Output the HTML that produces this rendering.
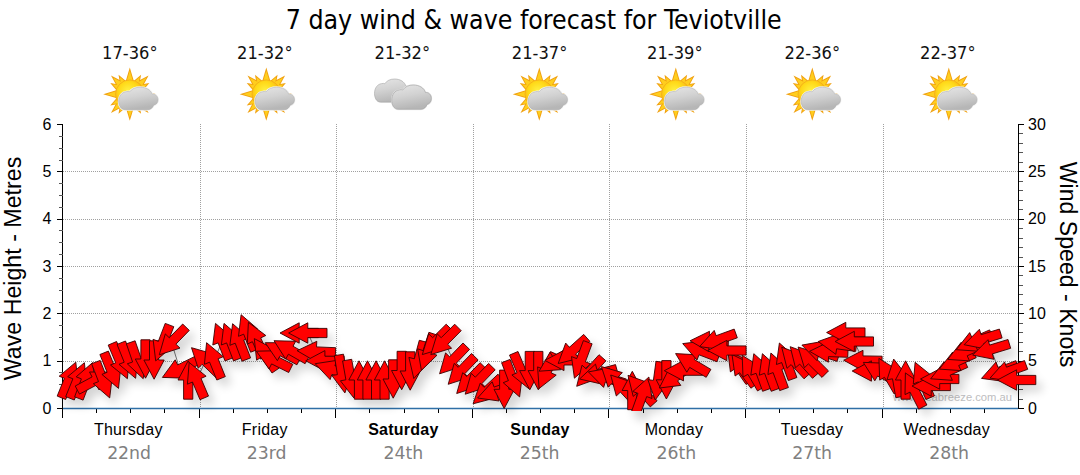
<!DOCTYPE html>
<html><head><meta charset="utf-8"><title>7 day wind &amp; wave forecast for Teviotville</title>
<style>
html,body{margin:0;padding:0;background:#fff;}
body{width:1080px;height:475px;overflow:hidden;}
svg{display:block;}
.t{font-family:"DejaVu Sans Condensed","DejaVu Sans","Liberation Sans",sans-serif;}
.a{font-family:"Liberation Sans",Arial,sans-serif;}
.d{font-family:"DejaVu Sans","Liberation Sans",sans-serif;}
</style></head><body>
<svg width="1080" height="475" viewBox="0 0 1080 475">
<defs>
<filter id="sh" x="-5%" y="-20%" width="110%" height="150%"><feGaussianBlur in="SourceAlpha" stdDeviation="5"/><feOffset dx="6" dy="7"/><feComponentTransfer><feFuncA type="linear" slope="0.17"/></feComponentTransfer></filter>
<radialGradient id="sung" cx="0.45" cy="0.4" r="0.6"><stop offset="0" stop-color="#fff245"/><stop offset="0.55" stop-color="#ffd918"/><stop offset="1" stop-color="#f7a914"/></radialGradient>
<linearGradient id="cg" x1="0" y1="0" x2="0.3" y2="1"><stop offset="0" stop-color="#e6e6e6"/><stop offset="0.5" stop-color="#d2d2d2"/><stop offset="1" stop-color="#b6b6b6"/></linearGradient>
<path id="cloud" d="M6.5,22.5 C2,22.5 0,18 0,14 C0,9 3,5 7.5,4.5 Q9.5,4 11,4.6 C13,1.5 17,0 21.5,0 C27,0 32,2.5 33.5,7 C36.5,6.5 39.3,9 39.3,12.5 C39.3,15.5 37.5,17.5 35,18 C34,20.5 32,22.5 29,22.5 Z"/>
<g id="rays">

<polygon points="-4.4,-12 0,-26.6 4.4,-12" transform="rotate(0.0)"/>
<polygon points="-3.8,-12 0,-22.6 3.8,-12" transform="rotate(30.0)"/>
<polygon points="-4.4,-12 0,-26.6 4.4,-12" transform="rotate(45.0)"/>
<polygon points="-3.8,-12 0,-22.6 3.8,-12" transform="rotate(60.0)"/>
<polygon points="-4.4,-12 0,-26.6 4.4,-12" transform="rotate(90.0)"/>
<polygon points="-3.8,-12 0,-22.6 3.8,-12" transform="rotate(120.0)"/>
<polygon points="-4.4,-12 0,-26.6 4.4,-12" transform="rotate(135.0)"/>
<polygon points="-3.8,-12 0,-22.6 3.8,-12" transform="rotate(150.0)"/>
<polygon points="-4.4,-12 0,-26.6 4.4,-12" transform="rotate(180.0)"/>
<polygon points="-3.8,-12 0,-22.6 3.8,-12" transform="rotate(210.0)"/>
<polygon points="-4.4,-12 0,-26.6 4.4,-12" transform="rotate(225.0)"/>
<polygon points="-3.8,-12 0,-22.6 3.8,-12" transform="rotate(240.0)"/>
<polygon points="-4.4,-12 0,-26.6 4.4,-12" transform="rotate(270.0)"/>
<polygon points="-3.8,-12 0,-22.6 3.8,-12" transform="rotate(300.0)"/>
<polygon points="-4.4,-12 0,-26.6 4.4,-12" transform="rotate(315.0)"/>
<polygon points="-3.8,-12 0,-22.6 3.8,-12" transform="rotate(330.0)"/>
</g>
<g id="sc">
 <g transform="translate(27,30.2)"><use href="#rays" fill="#f0a010"/><g transform="scale(0.88)"><use href="#rays" fill="#ffce1e"/></g><circle r="14.3" fill="url(#sung)" stroke="#f0a818" stroke-width="0.7"/></g>
 <g transform="translate(15.9,23.2)"><use href="#cloud" fill="#f4f4f4" stroke="#f4f4f4" stroke-width="2"/><use href="#cloud" fill="url(#cg)" stroke="#a8a8a8" stroke-width="0.5"/></g>
</g>
<g id="cc">
 <g transform="translate(0,3) scale(0.94,1.03)"><use href="#cloud" fill="url(#cg)" stroke="#a4a4a4" stroke-width="0.6"/></g>
 <g transform="translate(17.2,9) scale(1.01,1.08)"><use href="#cloud" fill="#ededed" stroke="#ededed" stroke-width="1.6"/><use href="#cloud" fill="url(#cg)" stroke="#a0a0a0" stroke-width="0.6"/></g>
</g>
</defs>
<rect width="1080" height="475" fill="#fff"/>

<text class="t" x="533.7" y="29.2" font-size="26.5" text-anchor="middle" textLength="496" lengthAdjust="spacingAndGlyphs" fill="#000">7 day wind &amp; wave forecast for Teviotville</text>
<text class="t" x="129.8" y="59.3" font-size="17" text-anchor="middle" textLength="55.5" lengthAdjust="spacingAndGlyphs" fill="#111">17-36°</text>
<use href="#sc" x="102.8" y="64"/>
<text class="t" x="264.8" y="59.3" font-size="17" text-anchor="middle" textLength="55.5" lengthAdjust="spacingAndGlyphs" fill="#111">21-32°</text>
<use href="#sc" x="239.3" y="64"/>
<text class="t" x="402.3" y="59.3" font-size="17" text-anchor="middle" textLength="55.5" lengthAdjust="spacingAndGlyphs" fill="#111">21-32°</text>
<use href="#cc" x="374.5" y="76"/>
<text class="t" x="539.6" y="59.3" font-size="17" text-anchor="middle" textLength="55.5" lengthAdjust="spacingAndGlyphs" fill="#111">21-37°</text>
<use href="#sc" x="512.3" y="64"/>
<text class="t" x="674.8" y="59.3" font-size="17" text-anchor="middle" textLength="55.5" lengthAdjust="spacingAndGlyphs" fill="#111">21-39°</text>
<use href="#sc" x="648.8" y="64"/>
<text class="t" x="812.3" y="59.3" font-size="17" text-anchor="middle" textLength="55.5" lengthAdjust="spacingAndGlyphs" fill="#111">22-36°</text>
<use href="#sc" x="785.3" y="64"/>
<text class="t" x="947.8" y="59.3" font-size="17" text-anchor="middle" textLength="55.5" lengthAdjust="spacingAndGlyphs" fill="#111">22-37°</text>
<use href="#sc" x="921.8" y="64"/>
<g stroke="#a0a0a0" stroke-width="1" stroke-dasharray="1,1" shape-rendering="crispEdges"><line x1="63" x2="1018" y1="361.5" y2="361.5"/><line x1="63" x2="1018" y1="313.5" y2="313.5"/><line x1="63" x2="1018" y1="266.5" y2="266.5"/><line x1="63" x2="1018" y1="219.5" y2="219.5"/><line x1="63" x2="1018" y1="171.5" y2="171.5"/><line x1="200.5" x2="200.5" y1="124" y2="408"/><line x1="336.5" x2="336.5" y1="124" y2="408"/><line x1="473.5" x2="473.5" y1="124" y2="408"/><line x1="609.5" x2="609.5" y1="124" y2="408"/><line x1="746.5" x2="746.5" y1="124" y2="408"/><line x1="883.5" x2="883.5" y1="124" y2="408"/></g>
<text class="a" x="893" y="400.7" font-size="11.5" fill="#bdbdc0" textLength="119" lengthAdjust="spacingAndGlyphs">www.seabreeze.com.au</text>
<g stroke="#000" stroke-width="1" shape-rendering="crispEdges"><line x1="62.5" x2="62.5" y1="124" y2="418"/><line x1="1018.5" x2="1018.5" y1="124" y2="409"/><line x1="57" x2="63" y1="408.5" y2="408.5"/><line x1="58.5" x2="63" y1="396.5" y2="396.5" stroke="#555"/><line x1="58.5" x2="63" y1="384.5" y2="384.5" stroke="#555"/><line x1="58.5" x2="63" y1="372.5" y2="372.5" stroke="#555"/><line x1="57" x2="63" y1="361.5" y2="361.5"/><line x1="58.5" x2="63" y1="349.5" y2="349.5" stroke="#555"/><line x1="58.5" x2="63" y1="337.5" y2="337.5" stroke="#555"/><line x1="58.5" x2="63" y1="325.5" y2="325.5" stroke="#555"/><line x1="57" x2="63" y1="313.5" y2="313.5"/><line x1="58.5" x2="63" y1="302.5" y2="302.5" stroke="#555"/><line x1="58.5" x2="63" y1="290.5" y2="290.5" stroke="#555"/><line x1="58.5" x2="63" y1="278.5" y2="278.5" stroke="#555"/><line x1="57" x2="63" y1="266.5" y2="266.5"/><line x1="58.5" x2="63" y1="254.5" y2="254.5" stroke="#555"/><line x1="58.5" x2="63" y1="242.5" y2="242.5" stroke="#555"/><line x1="58.5" x2="63" y1="230.5" y2="230.5" stroke="#555"/><line x1="57" x2="63" y1="219.5" y2="219.5"/><line x1="58.5" x2="63" y1="207.5" y2="207.5" stroke="#555"/><line x1="58.5" x2="63" y1="195.5" y2="195.5" stroke="#555"/><line x1="58.5" x2="63" y1="183.5" y2="183.5" stroke="#555"/><line x1="57" x2="63" y1="171.5" y2="171.5"/><line x1="58.5" x2="63" y1="160.5" y2="160.5" stroke="#555"/><line x1="58.5" x2="63" y1="148.5" y2="148.5" stroke="#555"/><line x1="58.5" x2="63" y1="136.5" y2="136.5" stroke="#555"/><line x1="57" x2="63" y1="124.5" y2="124.5"/><line x1="1018.5" x2="1024.0" y1="408.5" y2="408.5"/><line x1="1018.5" x2="1022.7" y1="399.5" y2="399.5" stroke="#555"/><line x1="1018.5" x2="1022.7" y1="389.5" y2="389.5" stroke="#555"/><line x1="1018.5" x2="1022.7" y1="380.5" y2="380.5" stroke="#555"/><line x1="1018.5" x2="1022.7" y1="370.5" y2="370.5" stroke="#555"/><line x1="1018.5" x2="1024.0" y1="361.5" y2="361.5"/><line x1="1018.5" x2="1022.7" y1="351.5" y2="351.5" stroke="#555"/><line x1="1018.5" x2="1022.7" y1="342.5" y2="342.5" stroke="#555"/><line x1="1018.5" x2="1022.7" y1="332.5" y2="332.5" stroke="#555"/><line x1="1018.5" x2="1022.7" y1="323.5" y2="323.5" stroke="#555"/><line x1="1018.5" x2="1024.0" y1="313.5" y2="313.5"/><line x1="1018.5" x2="1022.7" y1="304.5" y2="304.5" stroke="#555"/><line x1="1018.5" x2="1022.7" y1="294.5" y2="294.5" stroke="#555"/><line x1="1018.5" x2="1022.7" y1="285.5" y2="285.5" stroke="#555"/><line x1="1018.5" x2="1022.7" y1="275.5" y2="275.5" stroke="#555"/><line x1="1018.5" x2="1024.0" y1="266.5" y2="266.5"/><line x1="1018.5" x2="1022.7" y1="257.5" y2="257.5" stroke="#555"/><line x1="1018.5" x2="1022.7" y1="247.5" y2="247.5" stroke="#555"/><line x1="1018.5" x2="1022.7" y1="238.5" y2="238.5" stroke="#555"/><line x1="1018.5" x2="1022.7" y1="228.5" y2="228.5" stroke="#555"/><line x1="1018.5" x2="1024.0" y1="219.5" y2="219.5"/><line x1="1018.5" x2="1022.7" y1="209.5" y2="209.5" stroke="#555"/><line x1="1018.5" x2="1022.7" y1="200.5" y2="200.5" stroke="#555"/><line x1="1018.5" x2="1022.7" y1="190.5" y2="190.5" stroke="#555"/><line x1="1018.5" x2="1022.7" y1="181.5" y2="181.5" stroke="#555"/><line x1="1018.5" x2="1024.0" y1="171.5" y2="171.5"/><line x1="1018.5" x2="1022.7" y1="162.5" y2="162.5" stroke="#555"/><line x1="1018.5" x2="1022.7" y1="152.5" y2="152.5" stroke="#555"/><line x1="1018.5" x2="1022.7" y1="143.5" y2="143.5" stroke="#555"/><line x1="1018.5" x2="1022.7" y1="133.5" y2="133.5" stroke="#555"/><line x1="1018.5" x2="1024.0" y1="124.5" y2="124.5"/><line x1="62.5" x2="62.5" y1="408" y2="418"/><line x1="96.5" x2="96.5" y1="408" y2="413"/><line x1="130.5" x2="130.5" y1="408" y2="413"/><line x1="164.5" x2="164.5" y1="408" y2="413"/><line x1="199.5" x2="199.5" y1="408" y2="418"/><line x1="233.5" x2="233.5" y1="408" y2="413"/><line x1="267.5" x2="267.5" y1="408" y2="413"/><line x1="301.5" x2="301.5" y1="408" y2="413"/><line x1="335.5" x2="335.5" y1="408" y2="418"/><line x1="369.5" x2="369.5" y1="408" y2="413"/><line x1="404.5" x2="404.5" y1="408" y2="413"/><line x1="438.5" x2="438.5" y1="408" y2="413"/><line x1="472.5" x2="472.5" y1="408" y2="418"/><line x1="506.5" x2="506.5" y1="408" y2="413"/><line x1="540.5" x2="540.5" y1="408" y2="413"/><line x1="574.5" x2="574.5" y1="408" y2="413"/><line x1="608.5" x2="608.5" y1="408" y2="418"/><line x1="643.5" x2="643.5" y1="408" y2="413"/><line x1="677.5" x2="677.5" y1="408" y2="413"/><line x1="711.5" x2="711.5" y1="408" y2="413"/><line x1="745.5" x2="745.5" y1="408" y2="418"/><line x1="779.5" x2="779.5" y1="408" y2="413"/><line x1="813.5" x2="813.5" y1="408" y2="413"/><line x1="847.5" x2="847.5" y1="408" y2="413"/><line x1="882.5" x2="882.5" y1="408" y2="418"/><line x1="916.5" x2="916.5" y1="408" y2="413"/><line x1="950.5" x2="950.5" y1="408" y2="413"/><line x1="984.5" x2="984.5" y1="408" y2="413"/></g>
<line x1="63" x2="1018.0" y1="408.5" y2="408.5" stroke="#2f6fa6" stroke-width="1.4"/>
<polyline points="68.7,380.0 77.2,380.5 85.7,380.5 94.3,381.0 102.8,380.0 111.3,370.6 119.9,361.0 128.4,360.5 137.0,360.5 145.5,359.0 154.1,360.0 162.6,343.0 171.1,341.0 179.7,369.0 188.2,380.0 196.8,380.2 205.3,361.0 213.8,360.5 222.4,341.3 230.9,341.3 239.4,341.6 248.0,332.6 256.5,339.8 265.1,354.5 273.6,359.8 282.1,351.7 290.7,350.2 299.2,333.0 307.8,333.0 316.3,351.5 324.9,360.8 333.4,370.0 341.9,373.9 350.5,379.0 359.0,380.0 367.5,380.0 376.1,380.0 384.6,380.0 393.2,379.0 401.7,370.5 410.2,371.0 418.8,360.0 427.3,352.0 435.9,341.0 444.4,341.0 452.9,360.0 461.5,370.5 470.0,379.7 478.6,380.4 487.1,390.7 495.6,391.4 504.2,389.3 512.7,379.0 521.3,371.0 529.8,370.6 538.3,370.6 546.9,371.0 555.4,361.0 564.0,360.4 572.5,350.7 581.0,360.2 589.6,372.0 598.1,374.0 606.7,377.7 615.2,379.9 623.7,389.0 632.3,390.5 640.8,389.6 649.4,395.0 657.9,381.0 666.4,379.8 675.0,377.0 683.5,370.7 692.1,363.5 700.6,350.5 709.1,341.5 717.7,340.0 726.2,350.5 734.8,366.0 743.3,370.0 751.8,372.0 760.4,371.7 768.9,371.7 777.5,371.0 786.0,361.0 794.5,361.5 803.1,361.0 811.6,360.6 820.2,351.0 828.7,352.0 837.2,344.2 845.8,332.5 854.3,341.5 862.9,360.5 871.4,371.0 879.9,372.0 888.5,375.0 897.0,378.0 905.6,380.0 914.1,390.0 922.6,380.0 931.2,386.0 939.7,379.0 948.3,371.0 956.8,361.3 965.3,351.6 973.9,341.9 982.4,339.1 991.0,349.5 999.5,371.7 1008.0,371.5 1016.6,380.0" fill="none" stroke="#777" stroke-width="1"/>
<clipPath id="cp"><rect x="40" y="100" width="1020" height="311"/></clipPath>
<g filter="url(#sh)" fill="#000"><polygon points="75.8,362.2 78.1,383.8 72.9,381.7 65.7,399.5 57.2,396.1 64.4,378.3 59.2,376.2"/>
<polygon points="84.4,362.7 86.6,384.3 81.5,382.2 74.3,400.0 65.7,396.6 72.9,378.8 67.7,376.7"/>
<polygon points="92.6,362.6 95.3,384.2 90.0,382.1 83.1,400.1 74.6,396.8 81.4,378.9 76.2,376.8"/>
<polygon points="111.2,372.0 99.1,390.0 96.4,385.1 79.5,394.1 75.2,386.0 92.1,376.9 89.5,372.0"/>
<polygon points="109.7,397.9 93.3,383.7 98.5,381.6 91.6,363.7 100.2,360.4 107.1,378.4 112.3,376.3"/>
<polygon points="118.5,388.4 101.9,374.4 107.1,372.3 99.9,354.5 108.4,351.1 115.6,368.9 120.8,366.8"/>
<polygon points="127.4,378.7 110.5,365.0 115.7,362.8 108.2,345.1 116.6,341.5 124.1,359.2 129.3,357.0"/>
<polygon points="135.6,378.3 119.0,364.3 124.2,362.2 117.0,344.4 125.5,341.0 132.7,358.8 137.9,356.7"/>
<polygon points="143.2,378.7 127.3,363.8 132.6,362.0 126.4,343.8 135.1,340.8 141.3,359.0 146.6,357.2"/>
<polygon points="145.5,378.2 135.3,359.0 140.9,359.0 140.9,339.8 150.1,339.8 150.1,359.0 155.7,359.0"/>
<polygon points="154.1,379.2 143.9,360.0 149.5,360.0 149.5,340.8 158.7,340.8 158.7,360.0 164.2,360.0"/>
<polygon points="155.7,360.9 153.1,339.3 158.3,341.4 165.2,323.4 173.8,326.7 166.9,344.6 172.1,346.7"/>
<polygon points="159.3,354.8 165.3,333.9 169.3,337.8 182.7,324.0 189.3,330.4 175.9,344.2 180.0,348.1"/>
<polygon points="162.4,377.4 175.2,359.8 177.7,364.9 194.9,356.4 198.9,364.7 181.7,373.1 184.1,378.2"/>
<polygon points="188.2,360.8 198.4,380.0 192.8,380.0 192.8,399.2 183.6,399.2 183.6,380.0 178.0,380.0"/>
<polygon points="189.2,362.5 206.1,376.2 201.0,378.4 208.5,396.1 200.0,399.7 192.5,382.0 187.4,384.2"/>
<polygon points="191.5,347.7 212.4,353.7 208.5,357.7 222.3,371.0 215.9,377.6 202.1,364.3 198.2,368.3"/>
<polygon points="206.6,342.7 223.3,356.7 218.1,358.8 225.3,376.6 216.8,380.0 209.6,362.2 204.4,364.3"/>
<polygon points="215.5,323.4 231.9,337.6 226.7,339.7 233.5,357.6 225.0,360.9 218.1,342.9 212.8,345.0"/>
<polygon points="224.0,323.4 240.4,337.6 235.2,339.7 242.1,357.6 233.5,360.9 226.6,342.9 221.4,345.0"/>
<polygon points="232.6,323.7 249.0,337.9 243.7,340.0 250.6,357.9 242.0,361.2 235.2,343.2 229.9,345.3"/>
<polygon points="241.1,314.7 257.5,328.9 252.3,331.0 259.2,348.9 250.6,352.2 243.7,334.2 238.5,336.3"/>
<polygon points="248.4,322.4 265.8,335.5 260.7,337.9 268.8,355.3 260.5,359.1 252.4,341.7 247.3,344.1"/>
<polygon points="254.3,338.6 273.5,348.8 268.9,351.9 279.6,367.8 272.0,373.0 261.3,357.1 256.6,360.2"/>
<polygon points="256.4,351.2 278.2,350.7 275.7,355.7 292.8,364.3 288.7,372.5 271.6,363.9 269.0,368.9"/>
<polygon points="265.2,342.7 286.9,342.7 284.3,347.6 301.3,356.7 296.9,364.8 280.0,355.8 277.4,360.7"/>
<polygon points="274.0,340.7 295.7,341.3 293.0,346.2 309.7,355.7 305.1,363.7 288.4,354.2 285.7,359.1"/>
<polygon points="280.0,333.0 299.2,322.8 299.2,328.4 318.4,328.4 318.4,337.6 299.2,337.6 299.2,343.2"/>
<polygon points="288.6,333.0 307.8,322.8 307.8,328.4 327.0,328.4 327.0,337.6 307.8,337.6 307.8,343.2"/>
<polygon points="297.1,350.7 316.8,341.3 316.5,346.9 335.7,347.7 335.3,356.9 316.1,356.1 315.9,361.7"/>
<polygon points="305.7,360.8 324.9,350.6 324.9,356.2 344.1,356.2 344.1,365.4 324.9,365.4 324.9,371.0"/>
<polygon points="315.2,363.7 336.7,360.4 334.9,365.7 353.0,371.9 350.0,380.6 331.9,374.3 330.1,379.6"/>
<polygon points="344.9,392.9 331.9,375.5 337.4,374.6 334.4,355.7 343.5,354.2 346.5,373.2 352.0,372.3"/>
<polygon points="353.8,397.9 340.4,380.8 345.9,379.8 342.6,360.9 351.7,359.3 355.0,378.2 360.5,377.2"/>
<polygon points="359.0,360.8 369.2,380.0 363.6,380.0 363.6,399.2 354.4,399.2 354.4,380.0 348.8,380.0"/>
<polygon points="367.5,360.8 377.7,380.0 372.1,380.0 372.1,399.2 362.9,399.2 362.9,380.0 357.3,380.0"/>
<polygon points="376.1,360.8 386.3,380.0 380.7,380.0 380.7,399.2 371.5,399.2 371.5,380.0 365.9,380.0"/>
<polygon points="384.6,360.8 394.8,380.0 389.2,380.0 389.2,399.2 380.0,399.2 380.0,380.0 374.4,380.0"/>
<polygon points="393.2,398.2 383.0,379.0 388.6,379.0 388.6,359.8 397.8,359.8 397.8,379.0 403.4,379.0"/>
<polygon points="401.7,389.7 391.5,370.5 397.1,370.5 397.1,351.3 406.3,351.3 406.3,370.5 411.9,370.5"/>
<polygon points="410.2,390.2 400.1,371.0 405.6,371.0 405.6,351.8 414.9,351.8 414.9,371.0 420.4,371.0"/>
<polygon points="413.8,378.5 408.9,357.4 414.3,358.8 419.3,340.3 428.2,342.6 423.2,361.2 428.6,362.6"/>
<polygon points="421.4,370.3 417.6,348.8 423.0,350.6 428.9,332.3 437.6,335.2 431.7,353.4 437.0,355.2"/>
<polygon points="422.3,354.6 428.7,333.8 432.6,337.7 446.2,324.2 452.7,330.7 439.1,344.3 443.1,348.2"/>
<polygon points="430.8,354.6 437.2,333.8 441.2,337.7 454.7,324.2 461.2,330.7 447.7,344.3 451.6,348.2"/>
<polygon points="439.6,373.8 445.6,352.9 449.6,356.8 463.0,343.0 469.6,349.4 456.3,363.2 460.3,367.1"/>
<polygon points="448.2,384.3 454.2,363.4 458.2,367.3 471.5,353.5 478.1,359.9 464.8,373.7 468.8,377.6"/>
<polygon points="456.7,393.5 462.7,372.6 466.7,376.5 480.1,362.7 486.7,369.1 473.3,382.9 477.4,386.8"/>
<polygon points="465.2,394.2 471.2,373.3 475.3,377.2 488.6,363.4 495.2,369.8 481.9,383.6 485.9,387.5"/>
<polygon points="473.1,403.8 480.2,383.2 484.0,387.3 498.0,374.2 504.3,381.0 490.2,394.1 494.1,398.2"/>
<polygon points="477.6,398.0 492.2,381.8 494.1,387.1 512.1,380.5 515.3,389.2 497.2,395.7 499.1,401.0"/>
<polygon points="504.2,408.5 494.0,389.3 499.6,389.3 499.6,370.1 508.8,370.1 508.8,389.3 514.4,389.3"/>
<polygon points="519.6,396.9 503.2,382.7 508.4,380.6 501.6,362.7 510.1,359.4 517.0,377.4 522.3,375.3"/>
<polygon points="528.8,388.7 511.9,375.0 517.0,372.8 509.5,355.1 518.0,351.5 525.5,369.2 530.7,367.0"/>
<polygon points="529.8,389.8 519.6,370.6 525.2,370.6 525.2,351.4 534.4,351.4 534.4,370.6 540.0,370.6"/>
<polygon points="538.3,389.8 528.1,370.6 533.7,370.6 533.7,351.4 542.9,351.4 542.9,370.6 548.5,370.6"/>
<polygon points="539.1,388.5 537.6,366.9 542.7,369.1 550.5,351.6 558.9,355.3 551.1,372.9 556.2,375.1"/>
<polygon points="539.1,371.2 550.0,352.3 553.0,357.1 569.3,346.9 574.2,354.7 557.9,364.9 560.8,369.7"/>
<polygon points="544.8,360.4 564.0,350.2 564.0,355.8 583.2,355.8 583.2,365.0 564.0,365.0 564.0,370.6"/>
<polygon points="558.2,363.5 565.7,343.1 569.4,347.3 583.7,334.4 589.9,341.3 575.6,354.1 579.3,358.3"/>
<polygon points="574.4,378.2 571.5,356.6 576.7,358.6 583.4,340.6 592.1,343.8 585.4,361.8 590.6,363.8"/>
<polygon points="576.7,386.3 582.0,365.2 586.2,368.9 599.0,354.7 605.9,360.8 593.0,375.1 597.2,378.8"/>
<polygon points="579.6,379.0 595.5,364.1 596.9,369.6 615.5,364.6 617.9,373.5 599.3,378.4 600.8,383.9"/>
<polygon points="588.4,371.9 609.7,368.0 608.1,373.3 626.4,379.1 623.6,387.9 605.3,382.1 603.6,387.4"/>
<polygon points="601.4,366.6 622.3,372.6 618.4,376.6 632.2,389.9 625.8,396.5 612.0,383.2 608.1,387.2"/>
<polygon points="610.7,375.0 631.2,382.0 627.1,385.9 640.2,399.9 633.5,406.2 620.4,392.1 616.3,396.0"/>
<polygon points="632.3,371.3 642.5,390.5 636.9,390.5 636.9,409.7 627.7,409.7 627.7,390.5 622.1,390.5"/>
<polygon points="628.0,375.3 648.4,382.8 644.2,386.5 657.1,400.8 650.3,406.9 637.4,392.7 633.2,396.4"/>
<polygon points="648.9,377.0 652.0,398.5 646.7,396.6 640.1,414.6 631.5,411.5 638.0,393.4 632.8,391.5"/>
<polygon points="655.2,400.0 647.8,379.6 653.4,380.4 656.0,361.3 665.1,362.6 662.5,381.6 668.0,382.4"/>
<polygon points="666.4,399.0 656.2,379.8 661.8,379.8 661.8,360.6 671.0,360.6 671.0,379.8 676.6,379.8"/>
<polygon points="659.3,388.0 669.1,368.6 672.4,373.2 688.1,362.2 693.4,369.8 677.6,380.8 680.8,385.4"/>
<polygon points="664.3,370.7 683.5,360.5 683.5,366.1 702.7,366.1 702.7,375.3 683.5,375.3 683.5,380.9"/>
<polygon points="675.6,353.6 697.3,354.8 694.4,359.6 710.9,369.4 706.2,377.3 689.7,367.4 686.8,372.2"/>
<polygon points="682.7,343.6 704.3,341.0 702.3,346.2 720.2,353.1 716.9,361.7 699.0,354.8 697.0,360.0"/>
<polygon points="690.0,340.8 709.5,331.3 709.3,336.9 728.5,337.6 728.2,346.8 709.0,346.1 708.8,351.7"/>
<polygon points="727.8,350.3 747.1,360.1 742.5,363.4 753.6,379.1 746.0,384.4 735.0,368.6 730.4,371.9"/>
<polygon points="732.0,354.5 751.6,364.0 747.0,367.3 758.3,382.8 750.9,388.2 739.6,372.7 735.1,376.0"/>
<polygon points="742.2,355.4 760.7,366.9 755.8,369.7 765.4,386.3 757.5,390.9 747.9,374.3 743.0,377.1"/>
<polygon points="699.6,346.6 714.2,330.4 716.1,335.7 734.2,329.1 737.3,337.8 719.3,344.3 721.2,349.6"/>
<polygon points="707.7,350.5 726.9,340.3 726.9,345.9 746.1,345.9 746.1,355.1 726.9,355.1 726.9,360.7"/>
<polygon points="753.8,353.7 770.0,368.2 764.7,370.1 771.3,388.2 762.6,391.3 756.1,373.3 750.8,375.2"/>
<polygon points="762.4,353.7 778.5,368.2 773.3,370.1 779.8,388.2 771.2,391.3 764.6,373.3 759.3,375.2"/>
<polygon points="770.9,353.0 787.1,367.5 781.8,369.4 788.4,387.5 779.7,390.6 773.1,372.6 767.9,374.5"/>
<polygon points="779.4,343.0 795.6,357.5 790.3,359.4 796.9,377.5 788.3,380.6 781.7,362.6 776.4,364.5"/>
<polygon points="781.7,347.2 802.1,354.7 798.0,358.4 810.8,372.7 804.0,378.8 791.1,364.6 787.0,368.3"/>
<polygon points="790.2,346.7 810.7,354.2 806.5,357.9 819.4,372.2 812.5,378.3 799.7,364.1 795.5,367.8"/>
<polygon points="798.1,347.0 818.8,353.4 814.9,357.3 828.5,370.9 822.0,377.4 808.4,363.9 804.4,367.8"/>
<polygon points="801.9,345.1 823.3,341.3 821.6,346.6 839.9,352.6 837.0,361.3 818.7,355.4 817.0,360.7"/>
<polygon points="809.5,351.3 829.1,341.8 828.9,347.4 848.1,348.1 847.7,357.3 828.5,356.6 828.4,362.2"/>
<polygon points="818.2,341.5 838.7,334.1 837.9,339.6 856.9,342.3 855.6,351.4 836.6,348.8 835.8,354.3"/>
<polygon points="826.6,332.5 845.8,322.3 845.8,327.9 865.0,327.9 865.0,337.1 845.8,337.1 845.8,342.7"/>
<polygon points="835.1,341.5 854.3,331.3 854.3,336.9 873.5,336.9 873.5,346.1 854.3,346.1 854.3,351.7"/>
<polygon points="843.7,360.2 863.0,350.3 863.0,355.9 882.1,356.2 882.0,365.4 862.8,365.1 862.7,370.7"/>
<polygon points="852.2,371.0 871.4,360.8 871.4,366.4 890.6,366.4 890.6,375.6 871.4,375.6 871.4,381.2"/>
<polygon points="863.3,362.4 885.0,363.2 882.2,368.0 898.9,377.6 894.3,385.6 877.6,376.0 874.8,380.8"/>
<polygon points="878.9,358.4 897.3,369.9 892.5,372.7 902.1,389.3 894.1,393.9 884.5,377.3 879.7,380.1"/>
<polygon points="893.7,359.1 907.1,376.2 901.6,377.2 904.9,396.1 895.8,397.7 892.5,378.8 887.0,379.8"/>
<polygon points="905.6,360.8 915.8,380.0 910.2,380.0 910.2,399.2 901.0,399.2 901.0,380.0 895.4,380.0"/>
<polygon points="905.4,372.9 923.2,385.4 918.2,387.9 926.9,405.0 918.7,409.2 910.0,392.1 905.0,394.6"/>
<polygon points="915.1,362.3 932.0,376.0 926.9,378.2 934.4,395.9 925.9,399.5 918.4,381.8 913.3,384.0"/>
<polygon points="912.0,386.0 931.2,375.8 931.2,381.4 950.4,381.4 950.4,390.6 931.2,390.6 931.2,396.2"/>
<polygon points="920.5,379.0 939.7,368.8 939.7,374.4 958.9,374.4 958.9,383.6 939.7,383.6 939.7,389.2"/>
<polygon points="930.7,378.8 944.1,361.7 946.4,366.8 963.9,359.0 967.7,367.4 950.1,375.2 952.4,380.3"/>
<polygon points="939.3,369.1 952.7,352.0 954.9,357.1 972.5,349.3 976.2,357.7 958.7,365.5 961.0,370.6"/>
<polygon points="947.8,359.4 961.2,342.3 963.5,347.4 981.0,339.6 984.8,348.0 967.2,355.8 969.5,360.9"/>
<polygon points="956.3,349.7 969.7,332.6 972.0,337.7 989.6,329.9 993.3,338.3 975.8,346.1 978.0,351.2"/>
<polygon points="964.1,344.7 979.4,329.3 981.1,334.7 999.4,329.1 1002.1,337.9 983.8,343.5 985.4,348.9"/>
<polygon points="972.6,355.1 988.0,339.7 989.6,345.1 1008.0,339.5 1010.7,348.3 992.3,353.9 994.0,359.3"/>
<polygon points="981.5,378.4 996.0,362.1 997.9,367.4 1015.9,360.7 1019.1,369.3 1001.1,376.0 1003.1,381.3"/>
<polygon points="990.0,378.1 1004.6,361.9 1006.5,367.2 1024.5,360.6 1027.7,369.3 1009.6,375.8 1011.5,381.1"/>
<polygon points="997.4,380.0 1016.6,369.8 1016.6,375.4 1035.8,375.4 1035.8,384.6 1016.6,384.6 1016.6,390.2"/></g>
<g clip-path="url(#cp)">
<g fill="#ff0000" stroke="#3a0000" stroke-width="0.9" stroke-linejoin="miter"><polygon points="75.8,362.2 78.1,383.8 72.9,381.7 65.7,399.5 57.2,396.1 64.4,378.3 59.2,376.2"/>
<polygon points="84.4,362.7 86.6,384.3 81.5,382.2 74.3,400.0 65.7,396.6 72.9,378.8 67.7,376.7"/>
<polygon points="92.6,362.6 95.3,384.2 90.0,382.1 83.1,400.1 74.6,396.8 81.4,378.9 76.2,376.8"/>
<polygon points="111.2,372.0 99.1,390.0 96.4,385.1 79.5,394.1 75.2,386.0 92.1,376.9 89.5,372.0"/>
<polygon points="109.7,397.9 93.3,383.7 98.5,381.6 91.6,363.7 100.2,360.4 107.1,378.4 112.3,376.3"/>
<polygon points="118.5,388.4 101.9,374.4 107.1,372.3 99.9,354.5 108.4,351.1 115.6,368.9 120.8,366.8"/>
<polygon points="127.4,378.7 110.5,365.0 115.7,362.8 108.2,345.1 116.6,341.5 124.1,359.2 129.3,357.0"/>
<polygon points="135.6,378.3 119.0,364.3 124.2,362.2 117.0,344.4 125.5,341.0 132.7,358.8 137.9,356.7"/>
<polygon points="143.2,378.7 127.3,363.8 132.6,362.0 126.4,343.8 135.1,340.8 141.3,359.0 146.6,357.2"/>
<polygon points="145.5,378.2 135.3,359.0 140.9,359.0 140.9,339.8 150.1,339.8 150.1,359.0 155.7,359.0"/>
<polygon points="154.1,379.2 143.9,360.0 149.5,360.0 149.5,340.8 158.7,340.8 158.7,360.0 164.2,360.0"/>
<polygon points="155.7,360.9 153.1,339.3 158.3,341.4 165.2,323.4 173.8,326.7 166.9,344.6 172.1,346.7"/>
<polygon points="159.3,354.8 165.3,333.9 169.3,337.8 182.7,324.0 189.3,330.4 175.9,344.2 180.0,348.1"/>
<polygon points="162.4,377.4 175.2,359.8 177.7,364.9 194.9,356.4 198.9,364.7 181.7,373.1 184.1,378.2"/>
<polygon points="188.2,360.8 198.4,380.0 192.8,380.0 192.8,399.2 183.6,399.2 183.6,380.0 178.0,380.0"/>
<polygon points="189.2,362.5 206.1,376.2 201.0,378.4 208.5,396.1 200.0,399.7 192.5,382.0 187.4,384.2"/>
<polygon points="191.5,347.7 212.4,353.7 208.5,357.7 222.3,371.0 215.9,377.6 202.1,364.3 198.2,368.3"/>
<polygon points="206.6,342.7 223.3,356.7 218.1,358.8 225.3,376.6 216.8,380.0 209.6,362.2 204.4,364.3"/>
<polygon points="215.5,323.4 231.9,337.6 226.7,339.7 233.5,357.6 225.0,360.9 218.1,342.9 212.8,345.0"/>
<polygon points="224.0,323.4 240.4,337.6 235.2,339.7 242.1,357.6 233.5,360.9 226.6,342.9 221.4,345.0"/>
<polygon points="232.6,323.7 249.0,337.9 243.7,340.0 250.6,357.9 242.0,361.2 235.2,343.2 229.9,345.3"/>
<polygon points="241.1,314.7 257.5,328.9 252.3,331.0 259.2,348.9 250.6,352.2 243.7,334.2 238.5,336.3"/>
<polygon points="248.4,322.4 265.8,335.5 260.7,337.9 268.8,355.3 260.5,359.1 252.4,341.7 247.3,344.1"/>
<polygon points="254.3,338.6 273.5,348.8 268.9,351.9 279.6,367.8 272.0,373.0 261.3,357.1 256.6,360.2"/>
<polygon points="256.4,351.2 278.2,350.7 275.7,355.7 292.8,364.3 288.7,372.5 271.6,363.9 269.0,368.9"/>
<polygon points="265.2,342.7 286.9,342.7 284.3,347.6 301.3,356.7 296.9,364.8 280.0,355.8 277.4,360.7"/>
<polygon points="274.0,340.7 295.7,341.3 293.0,346.2 309.7,355.7 305.1,363.7 288.4,354.2 285.7,359.1"/>
<polygon points="280.0,333.0 299.2,322.8 299.2,328.4 318.4,328.4 318.4,337.6 299.2,337.6 299.2,343.2"/>
<polygon points="288.6,333.0 307.8,322.8 307.8,328.4 327.0,328.4 327.0,337.6 307.8,337.6 307.8,343.2"/>
<polygon points="297.1,350.7 316.8,341.3 316.5,346.9 335.7,347.7 335.3,356.9 316.1,356.1 315.9,361.7"/>
<polygon points="305.7,360.8 324.9,350.6 324.9,356.2 344.1,356.2 344.1,365.4 324.9,365.4 324.9,371.0"/>
<polygon points="315.2,363.7 336.7,360.4 334.9,365.7 353.0,371.9 350.0,380.6 331.9,374.3 330.1,379.6"/>
<polygon points="344.9,392.9 331.9,375.5 337.4,374.6 334.4,355.7 343.5,354.2 346.5,373.2 352.0,372.3"/>
<polygon points="353.8,397.9 340.4,380.8 345.9,379.8 342.6,360.9 351.7,359.3 355.0,378.2 360.5,377.2"/>
<polygon points="359.0,360.8 369.2,380.0 363.6,380.0 363.6,399.2 354.4,399.2 354.4,380.0 348.8,380.0"/>
<polygon points="367.5,360.8 377.7,380.0 372.1,380.0 372.1,399.2 362.9,399.2 362.9,380.0 357.3,380.0"/>
<polygon points="376.1,360.8 386.3,380.0 380.7,380.0 380.7,399.2 371.5,399.2 371.5,380.0 365.9,380.0"/>
<polygon points="384.6,360.8 394.8,380.0 389.2,380.0 389.2,399.2 380.0,399.2 380.0,380.0 374.4,380.0"/>
<polygon points="393.2,398.2 383.0,379.0 388.6,379.0 388.6,359.8 397.8,359.8 397.8,379.0 403.4,379.0"/>
<polygon points="401.7,389.7 391.5,370.5 397.1,370.5 397.1,351.3 406.3,351.3 406.3,370.5 411.9,370.5"/>
<polygon points="410.2,390.2 400.1,371.0 405.6,371.0 405.6,351.8 414.9,351.8 414.9,371.0 420.4,371.0"/>
<polygon points="413.8,378.5 408.9,357.4 414.3,358.8 419.3,340.3 428.2,342.6 423.2,361.2 428.6,362.6"/>
<polygon points="421.4,370.3 417.6,348.8 423.0,350.6 428.9,332.3 437.6,335.2 431.7,353.4 437.0,355.2"/>
<polygon points="422.3,354.6 428.7,333.8 432.6,337.7 446.2,324.2 452.7,330.7 439.1,344.3 443.1,348.2"/>
<polygon points="430.8,354.6 437.2,333.8 441.2,337.7 454.7,324.2 461.2,330.7 447.7,344.3 451.6,348.2"/>
<polygon points="439.6,373.8 445.6,352.9 449.6,356.8 463.0,343.0 469.6,349.4 456.3,363.2 460.3,367.1"/>
<polygon points="448.2,384.3 454.2,363.4 458.2,367.3 471.5,353.5 478.1,359.9 464.8,373.7 468.8,377.6"/>
<polygon points="456.7,393.5 462.7,372.6 466.7,376.5 480.1,362.7 486.7,369.1 473.3,382.9 477.4,386.8"/>
<polygon points="465.2,394.2 471.2,373.3 475.3,377.2 488.6,363.4 495.2,369.8 481.9,383.6 485.9,387.5"/>
<polygon points="473.1,403.8 480.2,383.2 484.0,387.3 498.0,374.2 504.3,381.0 490.2,394.1 494.1,398.2"/>
<polygon points="477.6,398.0 492.2,381.8 494.1,387.1 512.1,380.5 515.3,389.2 497.2,395.7 499.1,401.0"/>
<polygon points="504.2,408.5 494.0,389.3 499.6,389.3 499.6,370.1 508.8,370.1 508.8,389.3 514.4,389.3"/>
<polygon points="519.6,396.9 503.2,382.7 508.4,380.6 501.6,362.7 510.1,359.4 517.0,377.4 522.3,375.3"/>
<polygon points="528.8,388.7 511.9,375.0 517.0,372.8 509.5,355.1 518.0,351.5 525.5,369.2 530.7,367.0"/>
<polygon points="529.8,389.8 519.6,370.6 525.2,370.6 525.2,351.4 534.4,351.4 534.4,370.6 540.0,370.6"/>
<polygon points="538.3,389.8 528.1,370.6 533.7,370.6 533.7,351.4 542.9,351.4 542.9,370.6 548.5,370.6"/>
<polygon points="539.1,388.5 537.6,366.9 542.7,369.1 550.5,351.6 558.9,355.3 551.1,372.9 556.2,375.1"/>
<polygon points="539.1,371.2 550.0,352.3 553.0,357.1 569.3,346.9 574.2,354.7 557.9,364.9 560.8,369.7"/>
<polygon points="544.8,360.4 564.0,350.2 564.0,355.8 583.2,355.8 583.2,365.0 564.0,365.0 564.0,370.6"/>
<polygon points="558.2,363.5 565.7,343.1 569.4,347.3 583.7,334.4 589.9,341.3 575.6,354.1 579.3,358.3"/>
<polygon points="574.4,378.2 571.5,356.6 576.7,358.6 583.4,340.6 592.1,343.8 585.4,361.8 590.6,363.8"/>
<polygon points="576.7,386.3 582.0,365.2 586.2,368.9 599.0,354.7 605.9,360.8 593.0,375.1 597.2,378.8"/>
<polygon points="579.6,379.0 595.5,364.1 596.9,369.6 615.5,364.6 617.9,373.5 599.3,378.4 600.8,383.9"/>
<polygon points="588.4,371.9 609.7,368.0 608.1,373.3 626.4,379.1 623.6,387.9 605.3,382.1 603.6,387.4"/>
<polygon points="601.4,366.6 622.3,372.6 618.4,376.6 632.2,389.9 625.8,396.5 612.0,383.2 608.1,387.2"/>
<polygon points="610.7,375.0 631.2,382.0 627.1,385.9 640.2,399.9 633.5,406.2 620.4,392.1 616.3,396.0"/>
<polygon points="632.3,371.3 642.5,390.5 636.9,390.5 636.9,409.7 627.7,409.7 627.7,390.5 622.1,390.5"/>
<polygon points="628.0,375.3 648.4,382.8 644.2,386.5 657.1,400.8 650.3,406.9 637.4,392.7 633.2,396.4"/>
<polygon points="648.9,377.0 652.0,398.5 646.7,396.6 640.1,414.6 631.5,411.5 638.0,393.4 632.8,391.5"/>
<polygon points="655.2,400.0 647.8,379.6 653.4,380.4 656.0,361.3 665.1,362.6 662.5,381.6 668.0,382.4"/>
<polygon points="666.4,399.0 656.2,379.8 661.8,379.8 661.8,360.6 671.0,360.6 671.0,379.8 676.6,379.8"/>
<polygon points="659.3,388.0 669.1,368.6 672.4,373.2 688.1,362.2 693.4,369.8 677.6,380.8 680.8,385.4"/>
<polygon points="664.3,370.7 683.5,360.5 683.5,366.1 702.7,366.1 702.7,375.3 683.5,375.3 683.5,380.9"/>
<polygon points="675.6,353.6 697.3,354.8 694.4,359.6 710.9,369.4 706.2,377.3 689.7,367.4 686.8,372.2"/>
<polygon points="682.7,343.6 704.3,341.0 702.3,346.2 720.2,353.1 716.9,361.7 699.0,354.8 697.0,360.0"/>
<polygon points="690.0,340.8 709.5,331.3 709.3,336.9 728.5,337.6 728.2,346.8 709.0,346.1 708.8,351.7"/>
<polygon points="727.8,350.3 747.1,360.1 742.5,363.4 753.6,379.1 746.0,384.4 735.0,368.6 730.4,371.9"/>
<polygon points="732.0,354.5 751.6,364.0 747.0,367.3 758.3,382.8 750.9,388.2 739.6,372.7 735.1,376.0"/>
<polygon points="742.2,355.4 760.7,366.9 755.8,369.7 765.4,386.3 757.5,390.9 747.9,374.3 743.0,377.1"/>
<polygon points="699.6,346.6 714.2,330.4 716.1,335.7 734.2,329.1 737.3,337.8 719.3,344.3 721.2,349.6"/>
<polygon points="707.7,350.5 726.9,340.3 726.9,345.9 746.1,345.9 746.1,355.1 726.9,355.1 726.9,360.7"/>
<polygon points="753.8,353.7 770.0,368.2 764.7,370.1 771.3,388.2 762.6,391.3 756.1,373.3 750.8,375.2"/>
<polygon points="762.4,353.7 778.5,368.2 773.3,370.1 779.8,388.2 771.2,391.3 764.6,373.3 759.3,375.2"/>
<polygon points="770.9,353.0 787.1,367.5 781.8,369.4 788.4,387.5 779.7,390.6 773.1,372.6 767.9,374.5"/>
<polygon points="779.4,343.0 795.6,357.5 790.3,359.4 796.9,377.5 788.3,380.6 781.7,362.6 776.4,364.5"/>
<polygon points="781.7,347.2 802.1,354.7 798.0,358.4 810.8,372.7 804.0,378.8 791.1,364.6 787.0,368.3"/>
<polygon points="790.2,346.7 810.7,354.2 806.5,357.9 819.4,372.2 812.5,378.3 799.7,364.1 795.5,367.8"/>
<polygon points="798.1,347.0 818.8,353.4 814.9,357.3 828.5,370.9 822.0,377.4 808.4,363.9 804.4,367.8"/>
<polygon points="801.9,345.1 823.3,341.3 821.6,346.6 839.9,352.6 837.0,361.3 818.7,355.4 817.0,360.7"/>
<polygon points="809.5,351.3 829.1,341.8 828.9,347.4 848.1,348.1 847.7,357.3 828.5,356.6 828.4,362.2"/>
<polygon points="818.2,341.5 838.7,334.1 837.9,339.6 856.9,342.3 855.6,351.4 836.6,348.8 835.8,354.3"/>
<polygon points="826.6,332.5 845.8,322.3 845.8,327.9 865.0,327.9 865.0,337.1 845.8,337.1 845.8,342.7"/>
<polygon points="835.1,341.5 854.3,331.3 854.3,336.9 873.5,336.9 873.5,346.1 854.3,346.1 854.3,351.7"/>
<polygon points="843.7,360.2 863.0,350.3 863.0,355.9 882.1,356.2 882.0,365.4 862.8,365.1 862.7,370.7"/>
<polygon points="852.2,371.0 871.4,360.8 871.4,366.4 890.6,366.4 890.6,375.6 871.4,375.6 871.4,381.2"/>
<polygon points="863.3,362.4 885.0,363.2 882.2,368.0 898.9,377.6 894.3,385.6 877.6,376.0 874.8,380.8"/>
<polygon points="878.9,358.4 897.3,369.9 892.5,372.7 902.1,389.3 894.1,393.9 884.5,377.3 879.7,380.1"/>
<polygon points="893.7,359.1 907.1,376.2 901.6,377.2 904.9,396.1 895.8,397.7 892.5,378.8 887.0,379.8"/>
<polygon points="905.6,360.8 915.8,380.0 910.2,380.0 910.2,399.2 901.0,399.2 901.0,380.0 895.4,380.0"/>
<polygon points="905.4,372.9 923.2,385.4 918.2,387.9 926.9,405.0 918.7,409.2 910.0,392.1 905.0,394.6"/>
<polygon points="915.1,362.3 932.0,376.0 926.9,378.2 934.4,395.9 925.9,399.5 918.4,381.8 913.3,384.0"/>
<polygon points="912.0,386.0 931.2,375.8 931.2,381.4 950.4,381.4 950.4,390.6 931.2,390.6 931.2,396.2"/>
<polygon points="920.5,379.0 939.7,368.8 939.7,374.4 958.9,374.4 958.9,383.6 939.7,383.6 939.7,389.2"/>
<polygon points="930.7,378.8 944.1,361.7 946.4,366.8 963.9,359.0 967.7,367.4 950.1,375.2 952.4,380.3"/>
<polygon points="939.3,369.1 952.7,352.0 954.9,357.1 972.5,349.3 976.2,357.7 958.7,365.5 961.0,370.6"/>
<polygon points="947.8,359.4 961.2,342.3 963.5,347.4 981.0,339.6 984.8,348.0 967.2,355.8 969.5,360.9"/>
<polygon points="956.3,349.7 969.7,332.6 972.0,337.7 989.6,329.9 993.3,338.3 975.8,346.1 978.0,351.2"/>
<polygon points="964.1,344.7 979.4,329.3 981.1,334.7 999.4,329.1 1002.1,337.9 983.8,343.5 985.4,348.9"/>
<polygon points="972.6,355.1 988.0,339.7 989.6,345.1 1008.0,339.5 1010.7,348.3 992.3,353.9 994.0,359.3"/>
<polygon points="981.5,378.4 996.0,362.1 997.9,367.4 1015.9,360.7 1019.1,369.3 1001.1,376.0 1003.1,381.3"/>
<polygon points="990.0,378.1 1004.6,361.9 1006.5,367.2 1024.5,360.6 1027.7,369.3 1009.6,375.8 1011.5,381.1"/>
<polygon points="997.4,380.0 1016.6,369.8 1016.6,375.4 1035.8,375.4 1035.8,384.6 1016.6,384.6 1016.6,390.2"/></g></g>
<text class="a" x="51.5" y="413.7" font-size="16" text-anchor="end" fill="#000">0</text>
<text class="a" x="51.5" y="366.4" font-size="16" text-anchor="end" fill="#000">1</text>
<text class="a" x="51.5" y="319.0" font-size="16" text-anchor="end" fill="#000">2</text>
<text class="a" x="51.5" y="271.7" font-size="16" text-anchor="end" fill="#000">3</text>
<text class="a" x="51.5" y="224.4" font-size="16" text-anchor="end" fill="#000">4</text>
<text class="a" x="51.5" y="177.0" font-size="16" text-anchor="end" fill="#000">5</text>
<text class="a" x="51.5" y="129.7" font-size="16" text-anchor="end" fill="#000">6</text>
<text class="a" x="1028" y="413.7" font-size="16" fill="#000">0</text>
<text class="a" x="1028" y="366.4" font-size="16" fill="#000">5</text>
<text class="a" x="1028" y="319.0" font-size="16" fill="#000">10</text>
<text class="a" x="1028" y="271.7" font-size="16" fill="#000">15</text>
<text class="a" x="1028" y="224.4" font-size="16" fill="#000">20</text>
<text class="a" x="1028" y="177.0" font-size="16" fill="#000">25</text>
<text class="a" x="1028" y="129.7" font-size="16" fill="#000">30</text>
<text class="a" transform="translate(20.5,268.5) rotate(-90)" font-size="23" text-anchor="middle" textLength="223.5" lengthAdjust="spacingAndGlyphs" fill="#000">Wave Height - Metres</text>
<text class="a" transform="translate(1059.5,264.5) rotate(90)" font-size="23" text-anchor="middle" textLength="205.5" lengthAdjust="spacingAndGlyphs" fill="#000">Wind Speed - Knots</text>
<text class="a" x="128.3" y="435" font-size="16" letter-spacing="0.25" text-anchor="middle" fill="#000">Thursday</text>
<text class="d" x="129.1" y="459" font-size="17.3" text-anchor="middle" fill="#808080">22nd</text>
<text class="a" x="264.8" y="435" font-size="16" letter-spacing="0.25" text-anchor="middle" fill="#000">Friday</text>
<text class="d" x="266.6" y="459" font-size="17.3" text-anchor="middle" fill="#808080">23rd</text>
<text class="a" x="403.4" y="435" font-size="16" letter-spacing="0.25" text-anchor="middle" fill="#000" font-weight="bold">Saturday</text>
<text class="d" x="403.3" y="459" font-size="17.3" text-anchor="middle" fill="#808080">24th</text>
<text class="a" x="539.9" y="435" font-size="16" letter-spacing="0.25" text-anchor="middle" fill="#000" font-weight="bold">Sunday</text>
<text class="d" x="539.7" y="459" font-size="17.3" text-anchor="middle" fill="#808080">25th</text>
<text class="a" x="674.0" y="435" font-size="16" letter-spacing="0.25" text-anchor="middle" fill="#000">Monday</text>
<text class="d" x="676.3" y="459" font-size="17.3" text-anchor="middle" fill="#808080">26th</text>
<text class="a" x="812.1" y="435" font-size="16" letter-spacing="0.25" text-anchor="middle" fill="#000">Tuesday</text>
<text class="d" x="812.1" y="459" font-size="17.3" text-anchor="middle" fill="#808080">27th</text>
<text class="a" x="946.7" y="435" font-size="16" letter-spacing="0.25" text-anchor="middle" fill="#000">Wednesday</text>
<text class="d" x="949.0" y="459" font-size="17.3" text-anchor="middle" fill="#808080">28th</text>
</svg></body></html>
